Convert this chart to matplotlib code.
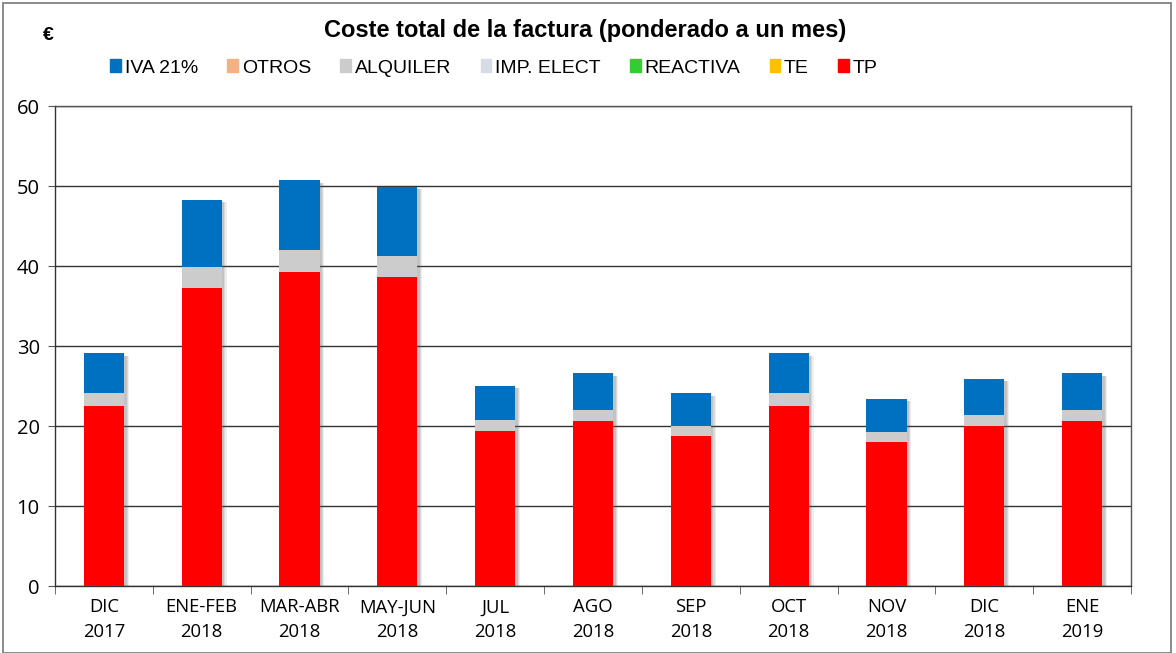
import numpy as np
import matplotlib
matplotlib.use('Agg')
import matplotlib.pyplot as plt
import matplotlib.patches as patches

# data (EUR per month)
periods = ['DIC\n2017', 'ENE-FEB\n2018', 'MAR-ABR\n2018', 'MAY-JUN\n2018', 'JUL\n2018',
           'AGO\n2018', 'SEP\n2018', 'OCT\n2018', 'NOV\n2018', 'DIC\n2018', 'ENE\n2019']
tp = [22.5, 37.25, 39.2, 38.6, 19.35, 20.6, 18.7, 22.5, 18.05, 19.95, 20.6]
te = [0, 0, 0, 0, 0, 0, 0, 0, 0, 0, 0]
reactiva = [0, 0, 0, 0, 0, 0, 0, 0, 0, 0, 0]
imp_elect = [0, 0, 0, 0, 0, 0, 0, 0, 0, 0, 0]
alquiler = [1.6, 2.6, 2.75, 2.65, 1.4, 1.4, 1.3, 1.6, 1.2, 1.45, 1.4]
otros = [0, 0, 0, 0, 0, 0, 0, 0, 0, 0, 0]
iva = [5.0, 8.4, 8.75, 8.65, 4.3, 4.6, 4.1, 5.0, 4.15, 4.5, 4.6]

# bottom to top stacking
series = [
    ('TP', tp, '#FF0000'),
    ('TE', te, '#FFC000'),
    ('REACTIVA', reactiva, '#33CC33'),
    ('IMP. ELECT', imp_elect, '#D6DCE5'),
    ('ALQUILER', alquiler, '#CCCCCC'),
    ('OTROS', otros, '#F4B183'),
    ('IVA 21%', iva, '#0070C0'),
]

fig = plt.figure(figsize=(11.76, 6.53), dpi=100)
ax = fig.add_axes([55 / 1176, 67 / 653, 1076 / 1176, 480 / 653])

x = np.arange(len(periods))
width = 0.41
total = np.sum([np.array(v, dtype=float) for _, v, _ in series], axis=0)

# soft shadow on the right of each stack
for k, a in enumerate([0.10, 0.14, 0.18]):
    off = 0.05 - k * 0.012
    ax.bar(x + off, total - 0.3, width=width, color='#606060', alpha=a, linewidth=0, zorder=2)

bottom = np.zeros(len(periods))
for name, vals, color in series:
    vals = np.array(vals, dtype=float)
    ax.bar(x, vals, width=width, bottom=bottom, color=color, linewidth=0, zorder=3)
    bottom += vals

ax.set_ylim(0, 60)
ax.set_xlim(-0.5, len(periods) - 0.5)
ax.set_yticks(np.arange(0, 61, 10))
ax.yaxis.grid(True, color='#333333', linewidth=1.0, zorder=0)
ax.set_axisbelow(True)
for s in ax.spines.values():
    s.set_color('#555555')
    s.set_linewidth(1.0)
ax.spines['left'].set_color('#333333')
ax.spines['bottom'].set_color('#333333')

ax.set_xticks(x)
ax.set_xticklabels(periods, fontsize=13.3, family='Open Sans', linespacing=1.45)
ax.set_xticks(np.arange(-0.5, len(periods), 1), minor=True)
ax.tick_params(axis='x', which='major', length=0, pad=9)
ax.tick_params(axis='x', which='minor', length=6, color='#555555', direction='out')
ax.tick_params(axis='y', length=5, color='#555555', labelsize=14.5, pad=6)
for lab in ax.get_yticklabels():
    lab.set_family('Open Sans')

fig.text(585 / 1176, 1 - 30 / 653, 'Coste total de la factura (ponderado a un mes)',
         ha='center', va='center', fontsize=17, fontweight='bold', family='Liberation Sans')
fig.text(48 / 1176, 1 - 36 / 653, '€', ha='center', va='center', fontsize=14,
         fontweight='bold', family='Liberation Sans')

order = ['IVA 21%', 'OTROS', 'ALQUILER', 'IMP. ELECT', 'REACTIVA', 'TE', 'TP']
colors = {n: c for n, _, c in series}
leg_handles = [patches.Patch(color=colors[n]) for n in order]
fig.legend(leg_handles, order, loc='center', bbox_to_anchor=(494 / 1176, 1 - 68 / 653),
           ncol=7, frameon=False, handlelength=0.55, handleheight=0.6, handletextpad=0.2,
           columnspacing=1.5, prop={'family': 'Liberation Sans', 'size': 14})

# outer chart border
fig.patches.append(patches.Rectangle((3 / 1176, 0), 1168 / 1176, 1 - 3 / 653, transform=fig.transFigure,
                                     fill=False, edgecolor='#777777', linewidth=1.2))

fig.savefig('out.png', dpi=100)
